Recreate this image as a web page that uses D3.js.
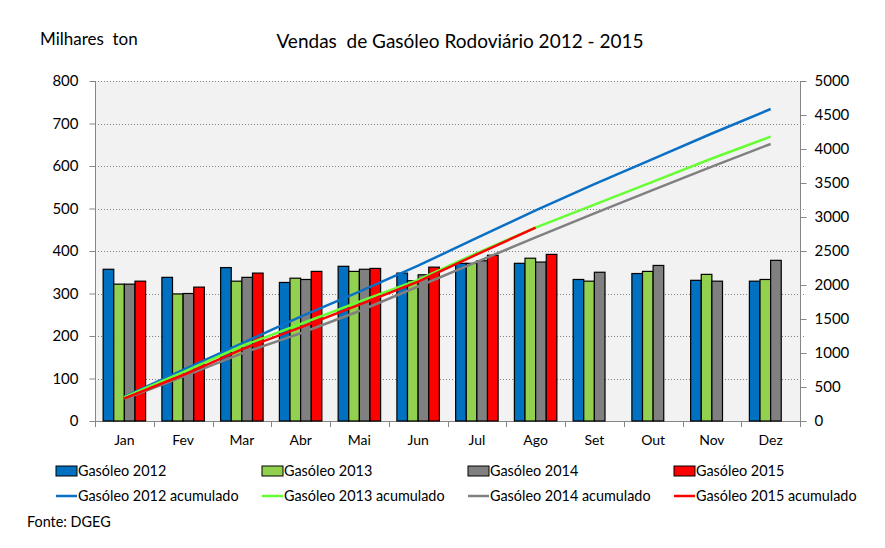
<!DOCTYPE html>
<html><head><meta charset="utf-8">
<script src="https://cdn.jsdelivr.net/npm/d3@7/dist/d3.min.js"></script>
<style>body{margin:0;background:#fff}svg{display:block}text{font-family:Lato,"Liberation Sans",sans-serif;fill:#000;white-space:pre}</style>
</head><body><svg id="c" width="885" height="548"></svg>
<script>
const months = ["Jan","Fev","Mar","Abr","Mai","Jun","Jul","Ago","Set","Out","Nov","Dez"];
const leftTicks = [0,100,200,300,400,500,600,700,800];
const rightTicks = [0,500,1000,1500,2000,2500,3000,3500,4000,4500,5000];
const g2012 = [357,338,361,326,364,348,371,371,333,347,331,329];
const g2013 = [322,299,329,336,352,330,371,383,329,352,345,333];
const g2014 = [322,300,338,333,357,344,377,374,350,366,329,378];
const g2015 = [329,315,348,352,359,362,390,392];
const acc2012 = [360,750,1142,1534,1902,2284,2693,3098,3485,3856,4228,4588];
const acc2013 = [350,720,1103,1426,1755,2074,2470,2845,3181,3519,3860,4181];
const acc2014 = [323,652,995,1290,1618,1978,2340,2701,3054,3399,3742,4074];
const acc2015 = [334,676,1054,1378,1711,2049,2450,2843];
const barNames = ["Gasóleo 2012","Gasóleo 2013","Gasóleo 2014","Gasóleo 2015"];
const lineNames = ["Gasóleo 2012 acumulado","Gasóleo 2013 acumulado","Gasóleo 2014 acumulado","Gasóleo 2015 acumulado"];
const barColors = ["#0070c0","#92d050","#808080","#ff0000"];
const lineColors = ["#0a70c6","#66ff33","#808080","#ff0000"];

const svg = d3.select("#c");
const L=95,R=800,T=81,B=421;
const x = d3.scaleBand().domain(months).range([L,R]).paddingInner(0.277).paddingOuter(0.1385);
const xs = d3.scaleBand().domain(d3.range(4)).range([0,x.bandwidth()]);
const yL = d3.scaleLinear().domain([0,800]).range([B,T]);
const yR = d3.scaleLinear().domain([0,5000]).range([B,T]);

svg.append("rect").attr("x",L).attr("y",T).attr("width",R-L).attr("height",B-T).attr("fill","#f2f2f2");
svg.append("g").selectAll("line").data(leftTicks.filter(d=>d>0)).join("line")
 .attr("x1",L).attr("x2",R+6).attr("y1",d=>Math.round(yL(d))+0.5).attr("y2",d=>Math.round(yL(d))+0.5)
 .attr("stroke","#808080").attr("stroke-dasharray","1,2");

const ga = svg.append("g").attr("transform",`translate(${L+0.5},0)`)
 .call(d3.axisLeft(yL).tickValues(leftTicks).tickSize(6).tickPadding(11).tickFormat(d3.format("d")));
const gr = svg.append("g").attr("transform",`translate(${R+0.5},0)`)
 .call(d3.axisRight(yR).tickValues(rightTicks).tickSize(6).tickPadding(8).tickFormat(d3.format("d")));
const step = x.step();
const gb = svg.append("g").attr("transform",`translate(0,${B+0.5})`)
 .call(d3.axisBottom(x).tickSize(0).tickPadding(14));
svg.append("g").selectAll("line").data(d3.range(months.length+1)).join("line")
 .attr("x1",i=>Math.round(L+i*step)+0.5).attr("x2",i=>Math.round(L+i*step)+0.5)
 .attr("y1",B).attr("y2",B+6).attr("stroke","#868686");
[ga,gr,gb].forEach(g=>{
  g.selectAll(".domain").attr("stroke","#868686");
  g.selectAll(".tick line").attr("stroke","#868686");
  g.selectAll("text").style("font-size","15px").style("font-family","Lato,'Liberation Sans',sans-serif");
});
ga.select(".domain").attr("d",`M0,${T}V${B}`);
gr.select(".domain").attr("d",`M0,${T}V${B}`);
gb.select(".domain").attr("d",`M${L},0H${R}`);
gb.selectAll("text").style("font-size","14px");

const series=[g2012,g2013,g2014,g2015];
series.forEach((s,si)=>{
  svg.append("g").selectAll("rect").data(s).join("rect")
   .attr("x",(d,i)=>x(months[i])+xs(si)).attr("width",xs.bandwidth())
   .attr("y",d=>yL(d)).attr("height",d=>B-yL(d))
   .attr("fill",barColors[si]).attr("stroke","#000").attr("stroke-width",1.2);
});
const accs=[acc2012,acc2013,acc2014,acc2015];
const line=d3.line().x((d,i)=>x(months[i])+x.bandwidth()/2).y(d=>yR(d));
accs.forEach((a,ai)=>{
  svg.append("path").datum(a).attr("d",line).attr("fill","none").attr("stroke",lineColors[ai]).attr("stroke-width",2.5);
});

svg.append("text").attr("x",460).attr("y",48).attr("text-anchor","middle").style("font-size","19px").text("Vendas  de Gasóleo Rodoviário 2012 - 2015");
svg.append("text").attr("x",40).attr("y",45).style("font-size","17px").text("Milhares  ton");

const colX=[56,262,468,674];
barNames.forEach((n,i)=>{
  svg.append("rect").attr("x",colX[i]).attr("y",466).attr("width",21).attr("height",10).attr("fill",barColors[i]).attr("stroke","#000").attr("stroke-width",1);
  svg.append("text").attr("x",colX[i]+22).attr("y",476).style("font-size","14.4px").text(n);
});
lineNames.forEach((n,i)=>{
  svg.append("line").attr("x1",colX[i]).attr("x2",colX[i]+21).attr("y1",496).attr("y2",496).attr("stroke",lineColors[i]).attr("stroke-width",2.5);
  svg.append("text").attr("x",colX[i]+22).attr("y",501).style("font-size","14.4px").text(n);
});
svg.append("text").attr("x",27).attr("y",527).style("font-size","14.4px").text("Fonte: DGEG");
</script></body></html>
